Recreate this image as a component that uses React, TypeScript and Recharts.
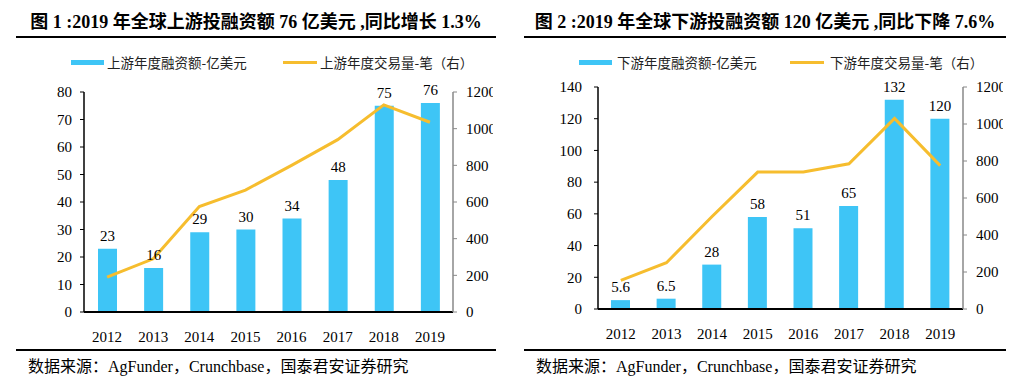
import React from 'react';
import { ComposedChart, Bar, Line, XAxis, YAxis, LabelList } from 'recharts';

const years = ['2012', '2013', '2014', '2015', '2016', '2017', '2018', '2019'];
const upstreamFunding = [23, 16, 29, 30, 34, 48, 75, 76];
const upstreamDeals = [190, 290, 575, 665, 800, 940, 1130, 1035];
const downstreamFunding = [5.6, 6.5, 28, 58, 51, 65, 132, 120];
const downstreamDeals = [155, 250, 500, 740, 740, 785, 1030, 775];
const upstreamTicks = [0, 10, 20, 30, 40, 50, 60, 70, 80];
const downstreamTicks = [0, 20, 40, 60, 80, 100, 120, 140];
const dealTicks = [0, 200, 400, 600, 800, 1000, 1200];

const title1 = '图 1 :2019 年全球上游投融资额 76 亿美元 ,同比增长 1.3%';
const title2 = '图 2 :2019 年全球下游投融资额 120 亿美元 ,同比下降 7.6%';
const legend1 = ['上游年度融资额-亿美元', '上游年度交易量-笔（右）'];
const legend2 = ['下游年度融资额-亿美元', '下游年度交易量-笔（右）'];
const sourceText = '数据来源：AgFunder，Crunchbase，国泰君安证券研究';

const BLUE = '#3EC5F6';
const GOLD = '#F6BD2E';
const SERIF = "'Liberation Serif', 'Times New Roman', 'Noto Sans CJK SC', serif";
const CJK = "'Noto Sans CJK SC', sans-serif";
const MIX = "'Liberation Serif', 'Noto Sans CJK SC', serif";

type PanelProps = {
  x: number;
  title: string;
  titleLeft: number;
  titleWidth: number;
  legend: string[];
  legendPos: { blue: number; blueText: number; gold: number; goldText: number };
  funding: number[];
  deals: number[];
  leftTicks: number[];
  leftMax: number;
  leftAxisWidth: number;
  rightAxisWidth: number;
  marginTop: number;
  plotHeight: number;
  clipWidth: number;
  leftTickMargin: number;
};

function Panel(p: PanelProps) {
  const data = years.map((y, i) => ({ year: y, funding: p.funding[i], deals: p.deals[i] }));
  const xAxisHeight = 42;
  const chartHeight = p.marginTop + p.plotHeight + xAxisHeight;
  const tickStyle = { fontFamily: SERIF, fontSize: 15, fill: '#000' };
  return (
    <>
      <div
        style={{
          position: 'absolute',
          left: p.titleLeft,
          top: 9,
          width: p.titleWidth,
          height: 27,
          borderBottom: '2.5px solid #000',
          textAlign: 'center',
          fontFamily: MIX,
          fontWeight: 'bold',
          fontSize: 18,
          lineHeight: '26px',
          whiteSpace: 'nowrap',
          color: '#000',
        }}
      >
        {p.title}
      </div>
      <div style={{ position: 'absolute', left: p.legendPos.blue, top: 60, width: 33, height: 5, background: BLUE }} />
      <div
        style={{
          position: 'absolute',
          left: p.legendPos.blueText,
          top: 53,
          fontFamily: CJK,
          fontSize: 13.5,
          lineHeight: '18px',
          color: '#222',
          whiteSpace: 'nowrap',
        }}
      >
        {p.legend[0]}
      </div>
      <div style={{ position: 'absolute', left: p.legendPos.gold, top: 61, width: 34, height: 3, background: GOLD }} />
      <div
        style={{
          position: 'absolute',
          left: p.legendPos.goldText,
          top: 53,
          fontFamily: CJK,
          fontSize: 13.5,
          lineHeight: '18px',
          color: '#222',
          whiteSpace: 'nowrap',
        }}
      >
        {p.legend[1]}
      </div>
      <div style={{ position: 'absolute', left: p.x, top: 80, width: p.clipWidth, height: chartHeight, overflow: 'hidden' }}>
        <ComposedChart
          width={512}
          height={chartHeight}
          data={data}
          margin={{ top: p.marginTop, right: 0, left: 0, bottom: 0 }}
          barCategoryGap="29%"
        >
          <XAxis
            dataKey="year"
            axisLine={{ stroke: '#000', strokeWidth: 2 }}
            tickLine={false}
            tickMargin={13}
            tick={tickStyle}
            height={xAxisHeight}
            interval={0}
          />
          <YAxis
            yAxisId="left"
            orientation="left"
            width={p.leftAxisWidth}
            domain={[0, p.leftMax]}
            ticks={p.leftTicks}
            axisLine={{ stroke: '#000', strokeWidth: 1.5 }}
            tickLine={{ stroke: '#000' }}
            tickSize={4}
            tickMargin={p.leftTickMargin}
            tick={tickStyle}
            interval={0}
          />
          <YAxis
            yAxisId="right"
            orientation="right"
            width={p.rightAxisWidth}
            domain={[0, 1200]}
            ticks={dealTicks}
            axisLine={{ stroke: '#888', strokeWidth: 1.5 }}
            tickLine={{ stroke: '#888' }}
            tickSize={4}
            tickMargin={9}
            tick={{ ...tickStyle, textAnchor: 'start' }}
            interval={0}
          />
          <Bar yAxisId="left" dataKey="funding" fill={BLUE} barSize={19} isAnimationActive={false}>
            <LabelList dataKey="funding" position="top" offset={8} style={{ fontFamily: SERIF, fontSize: 15, fill: '#000' }} />
          </Bar>
          <Line
            yAxisId="right"
            dataKey="deals"
            type="linear"
            stroke={GOLD}
            strokeWidth={3}
            dot={false}
            activeDot={false}
            isAnimationActive={false}
          />
        </ComposedChart>
      </div>
      <div style={{ position: 'absolute', left: p.titleLeft, top: 349, width: p.titleWidth, height: 0, borderTop: '2.5px solid #000' }} />
      <div
        style={{
          position: 'absolute',
          left: p.titleLeft + 12,
          top: 356,
          fontFamily: MIX,
          fontSize: 16,
          lineHeight: '22px',
          color: '#000',
          whiteSpace: 'nowrap',
        }}
      >
        {sourceText}
      </div>
    </>
  );
}

export default function App() {
  return (
    <div style={{ position: 'absolute', left: 0, top: 0, width: 1024, height: 388, background: '#fff', overflow: 'hidden' }}>
      <Panel
        x={0}
        title={title1}
        titleLeft={16}
        titleWidth={480}
        legend={legend1}
        legendPos={{ blue: 71, blueText: 107, gold: 283, goldText: 320 }}
        funding={upstreamFunding}
        deals={upstreamDeals}
        leftTicks={upstreamTicks}
        leftMax={80}
        leftAxisWidth={84}
        rightAxisWidth={59}
        marginTop={12}
        plotHeight={220}
        clipWidth={493}
        leftTickMargin={8}
      />
      <Panel
        x={512}
        title={title2}
        titleLeft={524}
        titleWidth={482}
        legend={legend2}
        legendPos={{ blue: 579, blueText: 617, gold: 790, goldText: 830 }}
        funding={downstreamFunding}
        deals={downstreamDeals}
        leftTicks={downstreamTicks}
        leftMax={140}
        leftAxisWidth={86}
        rightAxisWidth={61}
        marginTop={7}
        plotHeight={222}
        clipWidth={491}
        leftTickMargin={12}
      />
    </div>
  );
}
